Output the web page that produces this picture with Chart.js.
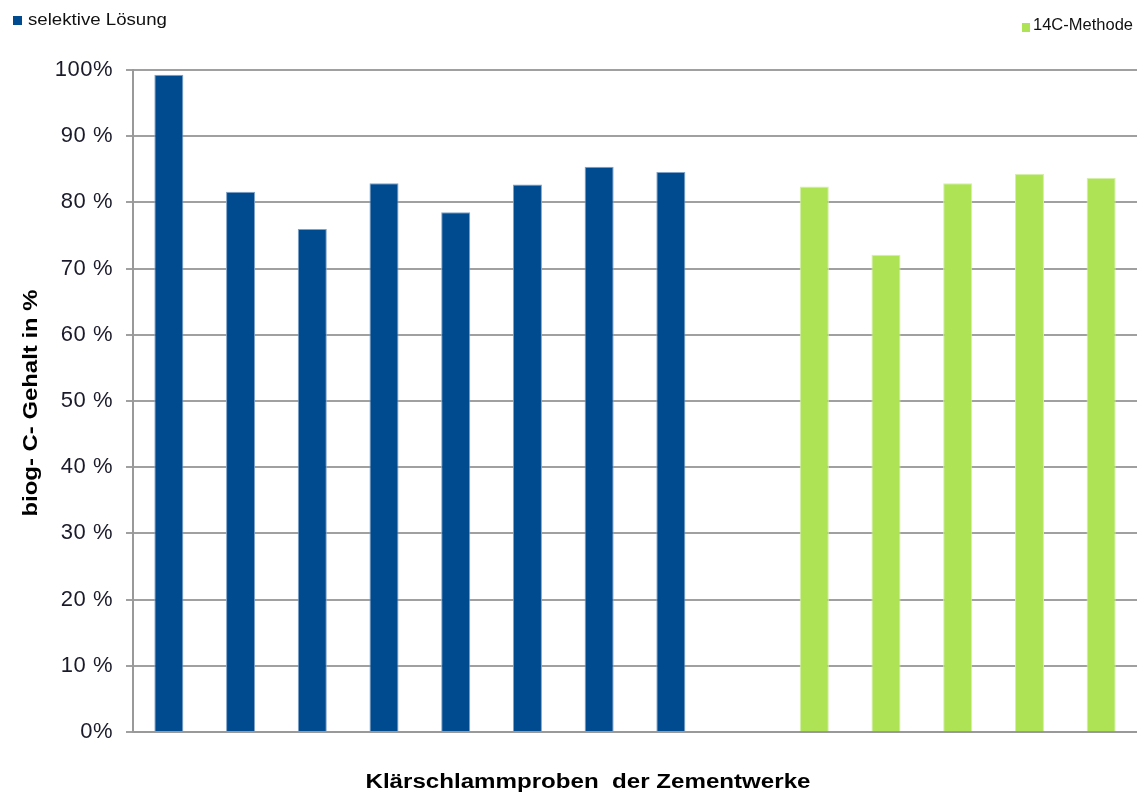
<!DOCTYPE html>
<html>
<head>
<meta charset="utf-8">
<script src="https://cdn.jsdelivr.net/npm/chart.js@4/dist/chart.umd.min.js"></script>
<style>
  html, body { margin: 0; padding: 0; background: #fff; }
  #wrap { width: 1137px; height: 794px; position: relative; }
</style>
</head>
<body>
<div id="wrap"><canvas id="chart"></canvas></div>
<script>
// 14 slots: 8 samples selektive Lösung, one gap, 5 samples 14C-Methode
const categories = ['', '', '', '', '', '', '', '', '', '', '', '', '', ''];
const selektiv = [99.3, 81.6, 76.0, 82.9, 78.5, 82.7, 85.4, 84.6, null, null, null, null, null, null];
const methode14C = [null, null, null, null, null, null, null, null, null, 82.4, 72.1, 82.9, 84.3, 83.7];
const yTickLabels = ['0%', '10 %', '20 %', '30 %', '40 %', '50 %', '60 %', '70 %', '80 %', '90 %', '100%'];

const BLUE = '#004a8f';
const GREEN = '#aee356';
const FONT = '"Liberation Sans", Arial, sans-serif';

// draw text stretched horizontally to a given width (the original font runs wide)
function wideText(ctx, text, x, y, width, rot) {
  const w = ctx.measureText(text).width;
  ctx.save();
  ctx.translate(x, y);
  if (rot) ctx.rotate(rot);
  ctx.scale(width / w, 1);
  ctx.fillText(text, 0, 0);
  ctx.restore();
}

// legend entries + axis titles drawn by hand (placed like the original)
const extras = {
  id: 'extras',
  beforeDraw(chart) {
    chart.ctx.letterSpacing = '0.5px';
  },
  afterDraw(chart) {
    const ctx = chart.ctx;
    const ds = chart.data.datasets;
    ctx.save();
    ctx.letterSpacing = '0px';
    ctx.textBaseline = 'middle';
    ctx.textAlign = 'left';

    ctx.font = '16px ' + FONT;
    ctx.fillStyle = ds[0].backgroundColor;
    ctx.fillRect(13, 16, 9, 9);
    ctx.fillStyle = '#111';
    wideText(ctx, ds[0].label, 28, 21, 139);

    ctx.font = '16px ' + FONT;
    ctx.fillStyle = ds[1].backgroundColor;
    ctx.fillRect(1022, 23, 8, 9);
    ctx.fillStyle = '#111';
    wideText(ctx, ds[1].label, 1033, 26, 100);

    ctx.font = 'bold 20px ' + FONT;
    ctx.textAlign = 'center';
    ctx.fillStyle = '#000';
    wideText(ctx, 'Klärschlammproben  der Zementwerke', 588, 782, 445);
    wideText(ctx, 'biog- C- Gehalt in %', 31, 403, 227, -Math.PI / 2);
    ctx.restore();
  }
};

new Chart(document.getElementById('chart'), {
  type: 'bar',
  data: {
    labels: categories,
    datasets: [
      {
        label: 'selektive Lösung',
        data: selektiv,
        backgroundColor: BLUE,
        borderColor: '#7fa3c8',
        borderWidth: { top: 1, left: 1, right: 1, bottom: 0 }
      },
      {
        label: '14C-Methode',
        data: methode14C,
        backgroundColor: GREEN,
        borderColor: '#d4f0a8',
        borderWidth: { top: 1, left: 1, right: 1, bottom: 0 }
      }
    ]
  },
  options: {
    responsive: true,
    maintainAspectRatio: false,
    animation: false,
    layout: { padding: { top: 70, bottom: 62, left: 0, right: 0 } },
    datasets: {
      bar: { grouped: false, barPercentage: 0.405, categoryPercentage: 1.0 }
    },
    plugins: {
      legend: { display: false },
      tooltip: { enabled: false }
    },
    scales: {
      x: {
        ticks: { display: false },
        grid: { display: false, drawTicks: false },
        border: { display: true, color: '#999', width: 2 }
      },
      y: {
        min: 0,
        max: 100,
        afterFit(scale) { scale.width = 133; },
        ticks: {
          stepSize: 10,
          padding: 13,
          color: '#1a1a2a',
          font: { family: FONT, size: 22 },
          callback: (v) => yTickLabels[Math.round(v / 10)]
        },
        grid: { color: '#a0a0a0', lineWidth: 2, tickLength: 7 },
        border: { display: true, color: '#999', width: 2 }
      }
    }
  },
  plugins: [extras]
});
</script>
</body>
</html>
